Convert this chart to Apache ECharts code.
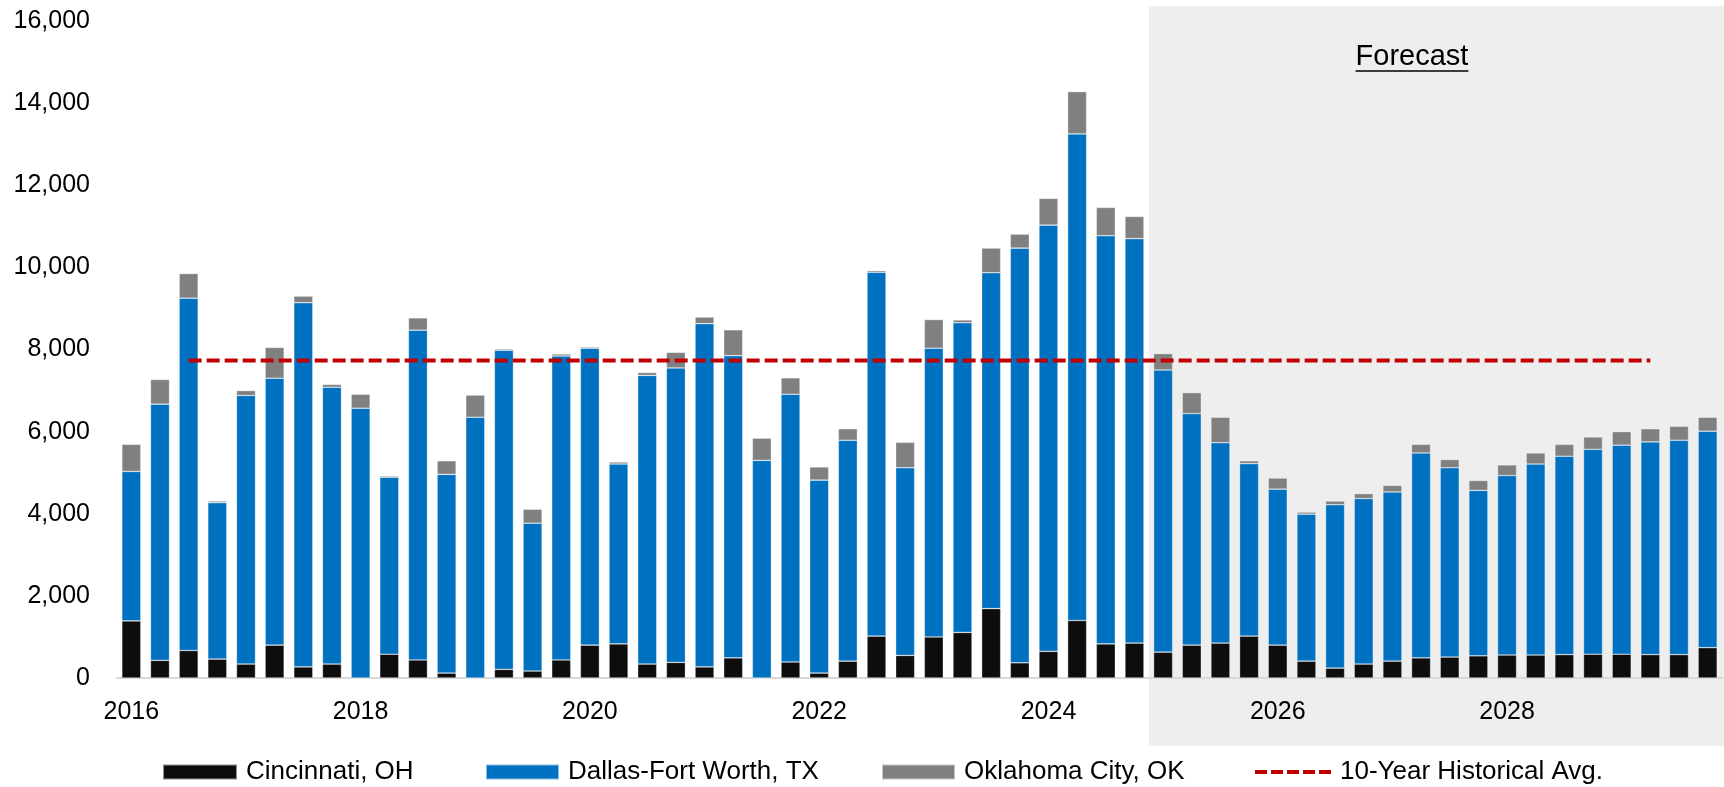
<!DOCTYPE html>
<html><head><meta charset="utf-8">
<script src="https://cdn.jsdelivr.net/npm/echarts@6/dist/echarts.min.js"></script>
<style>html,body{margin:0;padding:0;background:#fff}#c{width:1724px;height:787px}</style>
</head><body><div id="c"></div>
<script>
// ---- data ----
const years = [2016,2017,2018,2019,2020,2021,2022,2023,2024,2025,2026,2027,2028,2029];
const quarters = ['Q1','Q2','Q3','Q4'];
const categories = years.flatMap(y => quarters.map(q => y + ' ' + q));

const cincinnati = [1390,430,670,460,340,800,270,340,0,580,440,120,0,210,170,440,
  800,830,340,380,270,490,0,390,120,410,1020,550,1000,1110,1690,370,
  650,1400,830,850,630,800,850,1020,800,410,240,340,410,490,
  510,540,560,560,570,580,580,570,570,740];
const dallas = [3640,6240,8580,3810,6540,6500,8870,6740,6570,4310,8030,4840,6350,7770,3600,7400,
  7230,4380,7030,7170,8360,7360,5300,6520,4700,5380,8860,4570,7030,7540,8180,10100,
  10380,11850,9940,9850,6870,5640,4880,4200,3800,3580,3980,4030,4120,4990,
  4610,4030,4370,4650,4830,4990,5090,5180,5220,5270];
const oklahoma = [660,600,600,40,120,750,160,70,340,30,300,330,540,30,340,50,
  30,50,70,380,160,630,540,400,320,280,40,620,700,70,600,340,
  650,1030,690,540,400,510,620,70,270,50,90,120,160,210,
  200,240,260,270,290,300,330,320,340,340];
const avgValue = 7730;
const avgStart = '2016 Q3';
const avgEnd = '2029 Q2';
const forecastStart = '2025 Q1';
const yMin = 0, yMax = 16000, yStep = 2000;
const seriesNames = ['Cincinnati, OH', 'Dallas-Fort Worth, TX', 'Oklahoma City, OK', '10-Year Historical Avg.'];
const forecastLabel = 'Forecast';

// ---- chart ----
const FONT = 'Liberation Sans';
const chart = echarts.init(document.getElementById('c'), null, {renderer: 'canvas'});
const barStyle = c => ({color: c, borderColor: 'rgba(255,255,255,0.55)', borderWidth: 0.6});
const legendBase = (name, left, w, h, icon) => ({
  data: [name], left: left, top: 759, padding: 0, itemWidth: w, itemHeight: h,
  icon: icon, textStyle: {fontFamily: FONT, fontSize: 26, color: '#000', padding: [0, 0, 0, 4]}
});
const dashIcon = 'path://M0,0H12V4H0Z M16,0H28V4H16Z M32,0H44V4H32Z M48,0H60V4H48Z M64,0H76V4H64Z';
const option = {
  animation: false,
  backgroundColor: '#fff',
  grid: {left: 117, right: 2, top: 21, bottom: 109, containLabel: false},
  legend: [
    legendBase(seriesNames[0], 162, 74, 15, 'rect'),
    legendBase(seriesNames[1], 485, 73, 15, 'rect'),
    legendBase(seriesNames[2], 881, 73, 15, 'rect'),
    legendBase(seriesNames[3], 1255, 76, 4, dashIcon)
  ],
  xAxis: {
    type: 'category', data: categories,
    axisLine: {lineStyle: {color: '#d9d9d9', width: 2}},
    axisTick: {show: false},
    axisLabel: {interval: 7, formatter: v => v.slice(0, 4), margin: 22,
      fontFamily: FONT, fontSize: 25, color: '#000'}
  },
  yAxis: {
    type: 'value', min: yMin, max: yMax, interval: yStep,
    splitLine: {show: false}, axisLine: {show: false}, axisTick: {show: false},
    axisLabel: {formatter: v => v.toLocaleString('en-US'), margin: 27,
      fontFamily: FONT, fontSize: 25, color: '#000'}
  },
  series: [
    {name: seriesNames[0], type: 'bar', stack: 'a', barWidth: 19, data: cincinnati, itemStyle: barStyle('#0d0d0d')},
    {name: seriesNames[1], type: 'bar', stack: 'a', barWidth: 19, data: dallas, itemStyle: barStyle('#0070c0')},
    {name: seriesNames[2], type: 'bar', stack: 'a', barWidth: 19, data: oklahoma, itemStyle: barStyle('#808080')},
    {name: seriesNames[3], type: 'line', symbol: 'none', z: 5,
      data: [[avgStart, avgValue], [avgEnd, avgValue]],
      lineStyle: {color: '#c00000', width: 4, type: [13, 5]},
      itemStyle: {color: '#c00000'}}
  ]
};
chart.setOption(option);

// forecast shaded region + label, positioned via the axis scales
const band = chart.convertToPixel({xAxisIndex: 0}, categories[1]) - chart.convertToPixel({xAxisIndex: 0}, categories[0]);
const x0 = chart.convertToPixel({xAxisIndex: 0}, forecastStart) - band / 2;
const yTop = chart.convertToPixel({yAxisIndex: 0}, yMax) - 15;
const yBot = chart.convertToPixel({yAxisIndex: 0}, yMin) + 68;
const W = chart.getWidth();
const ctx = document.createElement('canvas').getContext('2d');
ctx.font = '29px "' + FONT + '"';
const tw = ctx.measureText(forecastLabel).width;
const tcx = 1412, tcy = 57;
chart.setOption({
  graphic: [
    {type: 'rect', z: -1, silent: true, shape: {x: x0, y: yTop, width: W - x0, height: yBot - yTop}, style: {fill: '#eeeeee'}},
    {type: 'text', z: 10, x: tcx, y: tcy, style: {text: forecastLabel, fontFamily: FONT, fontSize: 29, fill: '#000', align: 'center', verticalAlign: 'middle'}},
    {type: 'line', z: 10, shape: {x1: tcx - tw / 2, y1: 71, x2: tcx + tw / 2, y2: 71}, style: {stroke: '#000', lineWidth: 1.5}}
  ]
});
</script></body></html>
